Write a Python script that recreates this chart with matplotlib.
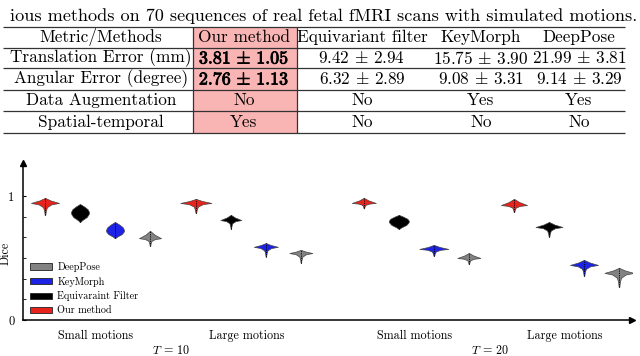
import numpy as np
import matplotlib
matplotlib.use("Agg")
import matplotlib.pyplot as plt
import matplotlib.patheffects as pe
from matplotlib.patches import Patch

plt.rcParams["font.family"] = ["cmr10", "DejaVu Serif"]
plt.rcParams["mathtext.fontset"] = "cm"
plt.rcParams["axes.unicode_minus"] = False

# ---- table data ----
caption = "ious methods on 70 sequences of real fetal fMRI scans with simulated motions."
header = ["Metric/Methods", "Our method", "Equivariant filter", "KeyMorph", "DeepPose"]
trans_mean = [3.81, 9.42, 15.75, 21.99]
trans_std = [1.05, 2.94, 3.90, 3.81]
ang_mean = [2.76, 6.32, 9.08, 9.14]
ang_std = [1.13, 2.89, 3.31, 3.29]
augmentation = ["No", "No", "Yes", "Yes"]
spatial_temporal = ["Yes", "No", "No", "No"]

# ---- violin data (Dice) ----
methods = ["Our method", "Equivaraint Filter", "KeyMorph", "DeepPose"]
groups = ["Small motions", "Large motions", "Small motions", "Large motions"]
t_labels = ["10", "20"]
dice_low = [[0.847, 0.790, 0.660, 0.597],
            [0.863, 0.734, 0.510, 0.460],
            [0.900, 0.734, 0.516, 0.450],
            [0.870, 0.670, 0.355, 0.266]]
dice_mode = [[0.944, 0.871, 0.726, 0.660],
             [0.944, 0.806, 0.590, 0.540],
             [0.944, 0.800, 0.573, 0.500],
             [0.927, 0.750, 0.444, 0.380]]
dice_high = [[0.984, 0.935, 0.790, 0.718],
             [0.976, 0.847, 0.620, 0.565],
             [0.984, 0.847, 0.605, 0.540],
             [0.976, 0.790, 0.484, 0.420]]
# rounded (onion) shaped violins vs flat (manta) ones
round_shape = [[False, True, True, False],
               [False, False, False, False],
               [False, True, False, False],
               [False, False, False, False]]

# ---- styling / layout ----
colors = ["#e8221c", "#000000", "#1c22e6", "#828282"]
widths_px = [[28, 18, 18, 22], [31, 21, 24, 23], [24, 20, 29, 23], [26, 27, 28, 29]]
group_start = [0.0, 4.31, 9.11, 13.4]
W, H = 640, 356
unit = 35.0          # px per slot on x
yscale = 124.0       # px per Dice unit

fig = plt.figure(figsize=(W / 100, H / 100), dpi=100)

# ---------------- table (pixel overlay) ----------------
tab = fig.add_axes([0, 0, 1, 1])
tab.set_xlim(0, W)
tab.set_ylim(H, 0)
tab.axis("off")

row_edges = [27, 48, 68, 90, 111, 133]
col_x = [101, 244, 362, 481, 579]
fs_tab = 12.4

tab.add_patch(plt.Rectangle((193, row_edges[0]), 104, row_edges[-1] - row_edges[0],
                            facecolor="#f9b4b4", edgecolor="none", zorder=0))
tab.hlines(row_edges, 3, 625, color="#333333", lw=0.9)
tab.vlines([193, 297], row_edges[0], row_edges[-1], color="#333333", lw=0.9)

tab.text(637, 16, caption, ha="right", va="center", fontsize=13.1)

fmt = r"$%.2f\,\pm\,%.2f$"
rows = [header,
        ["Translation Error (mm)"] + [fmt % (m, s) for m, s in zip(trans_mean, trans_std)],
        ["Angular Error (degree)"] + [fmt % (m, s) for m, s in zip(ang_mean, ang_std)],
        ["Data Augmentation"] + augmentation,
        ["Spatial-temporal"] + spatial_temporal]
bold = [pe.withStroke(linewidth=0.6, foreground="black")]
for r, row in enumerate(rows):
    yc = (row_edges[r] + row_edges[r + 1]) / 2
    for c, txt in enumerate(row):
        t = tab.text(col_x[c], yc, txt, ha="center", va="center", fontsize=fs_tab)
        if c == 1 and r in (1, 2):
            t.set_fontsize(fs_tab + 0.5)
            t.set_path_effects(bold)

# ---------------- violin plot ----------------
ax_l, ax_r, ax_t, ax_b = 22.7, 632, 163, 320
ax = fig.add_axes([ax_l / W, 1 - ax_b / H, (ax_r - ax_l) / W, (ax_b - ax_t) / H])

flat_dn = ([0.0, 0.35, 0.65, 0.88, 1.0], [0.02, 0.06, 0.14, 0.45, 1.0])
flat_up = ([0.0, 0.5, 1.0], [1.0, 0.4, 0.02])
round_dn = ([0.0, 0.2, 0.5, 0.8, 1.0], [0.02, 0.25, 0.75, 0.97, 1.0])
round_up = ([0.0, 0.35, 0.7, 1.0], [1.0, 0.85, 0.45, 0.02])

for g in range(4):
    for m in range(4):
        lo, mo, hi = dice_low[g][m], dice_mode[g][m], dice_high[g][m]
        dn, up = (round_dn, round_up) if round_shape[g][m] else (flat_dn, flat_up)
        coords = np.concatenate([lo + (mo - lo) * np.array(dn[0]),
                                 mo + (hi - mo) * np.array(up[0][1:])])
        vals = np.concatenate([dn[1], up[1][1:]])
        stats = [dict(coords=coords, vals=vals, mean=mo, median=mo, min=lo, max=hi)]
        pos = group_start[g] + m
        parts = ax.violin(stats, positions=[pos], widths=widths_px[g][m] / unit,
                          showmeans=False, showextrema=False, showmedians=False)
        for b in parts["bodies"]:
            b.set_facecolor(colors[m])
            b.set_edgecolor("#444444")
            b.set_linewidth(0.5)
            b.set_alpha(1)
        ax.vlines(pos, lo, hi, colors="k", linestyles=(0, (1.5, 1.2)), lw=0.6, zorder=3)

ax.set_xlim((ax_l - 45) / unit, (ax_r - 45) / unit)
ax.set_ylim(0, (ax_b - ax_t) / yscale)

for s in ["top", "right"]:
    ax.spines[s].set_visible(False)
for s in ["left", "bottom"]:
    ax.spines[s].set_linewidth(1.1)
ax.plot(1, 0, ">k", transform=ax.transAxes, clip_on=False, ms=4)
ax.plot(0, 1, "^k", transform=ax.transAxes, clip_on=False, ms=4)

ax.set_yticks([0, 1])
ax.set_yticks(np.arange(1, 6) / 6, minor=True)
ax.tick_params(axis="y", which="both", direction="in", length=2.5, labelsize=9, pad=6)
ax.set_xticks([gs + 1.45 for gs in group_start])
ax.set_xticklabels(groups)
ax.tick_params(axis="x", length=0, labelsize=8.7, pad=7)
ax.set_ylabel("Dice", fontsize=8.7)
ax.yaxis.set_label_coords((12 - ax_l) / (ax_r - ax_l), (ax_b - 253) / (ax_b - ax_t))

for i, t in enumerate(t_labels):
    xc = (group_start[2 * i] + group_start[2 * i + 1]) / 2 + 1.45
    ax.text(xc, -(351 - ax_b) / yscale, r"$T$ = " + t, ha="center", va="center", fontsize=8.7)

handles = [Patch(facecolor=colors[m], edgecolor="#222222", lw=0.6, label=methods[m]) for m in [3, 2, 1, 0]]
ax.legend(handles=handles, loc="lower left", bbox_to_anchor=((30 - ax_l) / (ax_r - ax_l), 0.03),
          frameon=False, fontsize=7.3, handlelength=2.2, handleheight=0.55,
          handletextpad=0.5, labelspacing=0.45, borderpad=0, borderaxespad=0)

fig.savefig("out.png", dpi=100)
